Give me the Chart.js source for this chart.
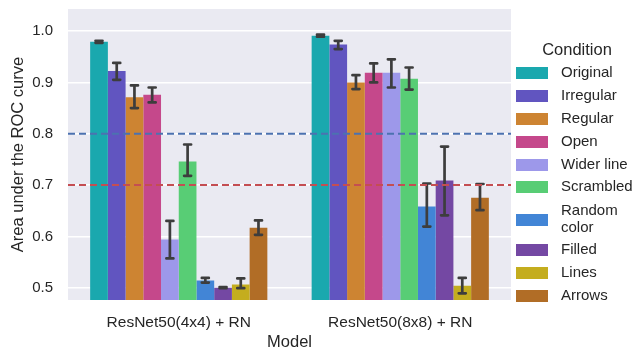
<!DOCTYPE html>
<html>
<head>
<meta charset="utf-8">
<script src="https://cdn.jsdelivr.net/npm/chart.js@4/dist/chart.umd.min.js"></script>
<style>
  html, body { margin: 0; padding: 0; background: #fff; }
  #wrap { width: 637px; height: 352px; position: relative; }
</style>
</head>
<body>
<div id="wrap"><canvas id="chart" width="637" height="352"></canvas></div>
<script>
const models = ['ResNet50(4x4) + RN', 'ResNet50(8x8) + RN'];
const conditions = ['Original', 'Irregular', 'Regular', 'Open', 'Wider line', 'Scrambled', 'Random color', 'Filled', 'Lines', 'Arrows'];
const colors = ['#1aa8ae', '#6155c0', '#cd8432', '#c5488b', '#9d98ea', '#58cd75', '#4285d6', '#7448a3', '#c4ad1e', '#b16d26'];

// mean AUC per condition, [4x4, 8x8]
const means = [
    [0.979, 0.991],
    [0.922, 0.974],
    [0.871, 0.900],
    [0.876, 0.919],
    [0.594, 0.919],
    [0.746, 0.907],
    [0.514, 0.658],
    [0.500, 0.709],
    [0.506, 0.504],
    [0.617, 0.675]
];
const errLow = [
    [0.977, 0.989],
    [0.905, 0.965],
    [0.850, 0.887],
    [0.861, 0.900],
    [0.557, 0.890],
    [0.718, 0.886],
    [0.510, 0.619],
    [0.499, 0.641],
    [0.499, 0.489],
    [0.603, 0.651]
];
const errHigh = [
    [0.981, 0.993],
    [0.938, 0.981],
    [0.894, 0.914],
    [0.890, 0.937],
    [0.630, 0.945],
    [0.779, 0.929],
    [0.519, 0.703],
    [0.501, 0.775],
    [0.518, 0.519],
    [0.631, 0.702]
];
const yTicks = [0.5, 0.6, 0.7, 0.8, 0.9, 1.0];
const refLines = [
    { value: 0.8, color: '#4c72b0' },
    { value: 0.7, color: '#c44e52' }
];

const FONT = '"Liberation Sans", Arial, sans-serif';
const TEXT = '#262626';

// Plot background
const bgPlugin = {
    id: 'bg',
    beforeDraw(chart) {
        const { ctx, chartArea: a } = chart;
        ctx.save();
        ctx.fillStyle = '#eaeaf2';
        ctx.fillRect(a.left, a.top, a.right - a.left, a.bottom - a.top);
        ctx.restore();
    }
};

// Error bars + reference lines
const errPlugin = {
    id: 'errbars',
    afterDatasetsDraw(chart) {
        const { ctx, chartArea: a } = chart;
        const y = chart.scales.y;
        ctx.save();
        ctx.strokeStyle = '#3d3d3d';
        ctx.lineCap = 'round';
        ctx.lineWidth = 2.7;
        chart.data.datasets.forEach((ds, i) => {
            const meta = chart.getDatasetMeta(i);
            meta.data.forEach((bar, j) => {
                const x = bar.x;
                const y1 = y.getPixelForValue(errLow[i][j]);
                const y2 = y.getPixelForValue(errHigh[i][j]);
                ctx.beginPath();
                ctx.moveTo(x, y1);
                ctx.lineTo(x, y2);
                ctx.moveTo(x - 3.5, y1); ctx.lineTo(x + 3.5, y1);
                ctx.moveTo(x - 3.5, y2); ctx.lineTo(x + 3.5, y2);
                ctx.stroke();
            });
        });
        ctx.lineCap = 'butt';
        ctx.lineWidth = 2;
        ctx.setLineDash([7, 4]);
        refLines.forEach(r => {
            const py = y.getPixelForValue(r.value);
            ctx.strokeStyle = r.color;
            ctx.beginPath();
            ctx.moveTo(a.left, py);
            ctx.lineTo(a.right, py);
            ctx.stroke();
        });
        ctx.restore();
    }
};

// Legend on the right
const legendPlugin = {
    id: 'sideLegend',
    afterDraw(chart) {
        const { ctx } = chart;
        ctx.save();
        ctx.fillStyle = TEXT;
        ctx.font = '16.5px ' + FONT;
        ctx.textAlign = 'center';
        ctx.textBaseline = 'middle';
        ctx.fillText('Condition', 577, 50);
        ctx.font = '15px ' + FONT;
        const rows = [73, 96, 119, 142, 165, 187, 220, 250, 273, 296];
        conditions.forEach((c, i) => {
            ctx.fillStyle = colors[i];
            ctx.fillRect(516, rows[i] - 6, 32, 12);
            ctx.fillStyle = TEXT;
            ctx.textAlign = 'left';
            if (c === 'Random color') {
                ctx.fillText('Random', 561, rows[i] - 9);
                ctx.fillText('color', 561, rows[i] + 8);
            } else {
                ctx.fillText(c, 561, rows[i]);
            }
        });
        ctx.restore();
    }
};

new Chart(document.getElementById('chart'), {
    type: 'bar',
    data: {
        labels: models,
        datasets: conditions.map((c, i) => ({
            label: c,
            data: means[i],
            backgroundColor: colors[i],
            borderWidth: 0,
            categoryPercentage: 0.8,
            barPercentage: 1.0
        }))
    },
    options: {
        responsive: false,
        animation: false,
        layout: { padding: { left: 0, right: 126, top: 9, bottom: 0 } },
        plugins: {
            legend: { display: false },
            tooltip: { enabled: false }
        },
        scales: {
            x: {
                grid: { display: false },
                border: { display: false },
                ticks: { color: TEXT, font: { family: FONT, size: 15.5 }, padding: 5 },
                title: { display: true, text: 'Model', color: TEXT, font: { family: FONT, size: 16.5 }, padding: { top: 0, bottom: 0 } },
                afterFit(axis) {
                    axis.height = 52;
                    axis.paddingLeft = 0;
                    axis.paddingRight = 0;
                }
            },
            y: {
                min: 0.476,
                max: 1.043,
                grid: { color: '#ffffff', lineWidth: 1.5, drawTicks: false },
                border: { display: false },
                ticks: {
                    color: TEXT,
                    font: { family: FONT, size: 15 },
                    padding: 15,
                    callback: v => v.toFixed(1)
                },
                afterBuildTicks(axis) { axis.ticks = yTicks.map(v => ({ value: v })); },
                title: { display: true, text: 'Area under the ROC curve', color: TEXT, font: { family: FONT, size: 16.5 }, padding: { top: 9, bottom: 0 } },
                afterFit(axis) {
                    axis.width = 68;
                    axis.paddingTop = 0;
                    axis.paddingBottom = 0;
                }
            }
        }
    },
    plugins: [bgPlugin, errPlugin, legendPlugin]
});
</script>
</body>
</html>
